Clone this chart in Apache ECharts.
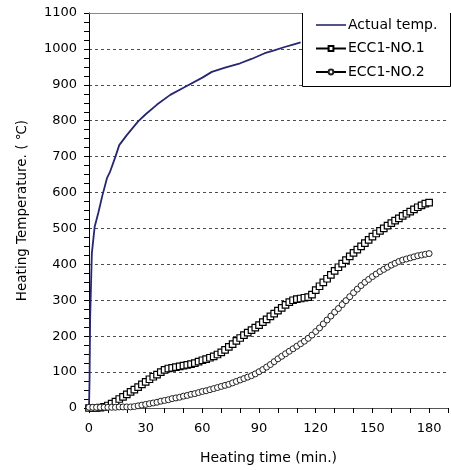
<!DOCTYPE html>
<html>
<head>
<meta charset="utf-8">
<script src="https://cdn.jsdelivr.net/npm/echarts@6/dist/echarts.min.js"></script>
<style>
  html, body { margin: 0; padding: 0; background: #fff; }
  #chart { width: 451px; height: 470px; }
</style>
</head>
<body>
<div id="chart"></div>
<script>
// furnace (actual) temperature
var fireTime = [0, 0.3, 0.6, 1.5, 3, 5, 7, 9.5, 11, 14, 16, 20, 26, 30, 36, 43, 50, 60, 65, 72, 80, 86, 93, 98, 104, 108, 112];
var fireTemp = [0, 80, 250, 430, 505, 545, 590, 640, 656, 700, 732, 760, 798, 818, 845, 872, 892, 920, 936, 948, 960, 972, 988, 996, 1006, 1012, 1018];

// specimen readings, every 2 min
var testTime = [
    0, 2, 4, 6, 8, 10, 12, 14, 16, 18,
    20, 22, 24, 26, 28, 30, 32, 34, 36, 38,
    40, 42, 44, 46, 48, 50, 52, 54, 56, 58,
    60, 62, 64, 66, 68, 70, 72, 74, 76, 78,
    80, 82, 84, 86, 88, 90, 92, 94, 96, 98,
    100, 102, 104, 106, 108, 110, 112, 114, 116, 118,
    120, 122, 124, 126, 128, 130, 132, 134, 136, 138,
    140, 142, 144, 146, 148, 150, 152, 154, 156, 158,
    160, 162, 164, 166, 168, 170, 172, 174, 176, 178,
    180
];
var no1Temp = [
    0, 0, 0, 1, 3, 7, 12, 18, 25, 31,
    38, 45, 51, 58, 66, 73, 80, 87, 93, 100,
    106, 110, 112, 114, 116, 118, 120, 122, 125, 129,
    133, 136, 140, 144, 149, 155, 162, 170, 178, 187,
    195, 203, 210, 217, 224, 231, 239, 247, 255, 263,
    271, 279, 287, 295, 300, 303, 305, 307, 309, 316,
    328, 339, 350, 360, 371, 382, 392, 402, 412, 422,
    432, 441, 450, 459, 468, 477, 486, 493, 500, 508,
    515, 522, 528, 535, 541, 547, 553, 559, 564, 569,
    572
];
var no2Temp = [
    2, 2, 2, 2, 2, 2, 2, 2, 3, 3,
    3, 3, 4, 6, 8, 10, 12, 14, 16, 19,
    21, 23, 26, 28, 30, 33, 35, 38, 40, 43,
    46, 48, 51, 54, 57, 60, 63, 66, 70, 74,
    78, 82, 86, 90, 95, 101, 107, 114, 121, 129,
    137, 144, 151, 158, 165, 172, 179, 186, 194, 203,
    213, 223, 234, 245, 256, 267, 277, 288, 299, 310,
    321, 331, 341, 350, 358, 366, 373, 380, 386, 392,
    398, 403, 408, 412, 415, 418, 421, 424, 426, 428,
    430
];
var seriesNames = ['Actual temp.', 'ECC1-NO.1', 'ECC1-NO.2'];
var xLabelEvery = 30, xLabelMax = 180;

function pairs(xs, ys) {
    var out = [];
    for (var i = 0; i < xs.length; i++) {
        out.push([xs[i], ys[i]]);
    }
    return out;
}

var FONT = 'DejaVu Sans';
var NAVY = '#262673';
// 12 split lines (0..1100); the top one is the solid frame line
var gridColors = [];
for (var i = 0; i < 12; i++) {
    gridColors.push(i === 11 ? 'rgba(0,0,0,0)' : '#4d4d4d');
}

var chart = echarts.init(document.getElementById('chart'), null, {renderer: 'canvas'});
chart.setOption({
    animation: false,
    backgroundColor: '#fff',
    grid: {left: 89, right: 1, top: 13, bottom: 60},
    xAxis: [{
        type: 'value',
        min: 0,
        max: 190,
        interval: 10,
        name: 'Heating time (min.)',
        nameLocation: 'middle',
        nameGap: 43,
        nameTextStyle: {fontFamily: FONT, fontSize: 14, color: '#000'},
        axisLine: {lineStyle: {color: '#555', width: 1}},
        axisTick: {length: 5, lineStyle: {color: '#000'}},
        axisLabel: {
            margin: 14,
            fontFamily: FONT, fontSize: 13, color: '#000',
            formatter: function(v) {
                return (v % xLabelEvery === 0 && v <= xLabelMax) ? String(v) : '';
            }
        },
        splitLine: {show: false}
    }, {
        // top frame line
        type: 'value',
        position: 'top',
        min: 0,
        max: 190,
        axisLine: {show: true, lineStyle: {color: '#888', width: 1}},
        axisTick: {show: false},
        axisLabel: {show: false},
        splitLine: {show: false}
    }],
    yAxis: {
        type: 'value',
        min: 0,
        max: 1100,
        interval: 100,
        name: 'Heating Temperature. ( \u2103)',
        nameLocation: 'middle',
        nameGap: 60,
        nameTextStyle: {fontFamily: FONT, fontSize: 13.5, color: '#000'},
        axisLine: {show: true, lineStyle: {color: '#000', width: 1}},
        axisTick: {length: 5, lineStyle: {color: '#000'}},
        minorTick: {show: true, splitNumber: 4, length: 5, lineStyle: {color: '#000'}},
        axisLabel: {
            margin: 12, fontFamily: FONT, fontSize: 13, color: '#000',
            formatter: function(v) { return String(v); }
        },
        splitLine: {show: true, lineStyle: {color: gridColors, type: [3, 3], width: 1}}
    },
    legend: {
        orient: 'vertical',
        left: 315,
        top: 18,
        itemWidth: 30,
        itemHeight: 6,
        itemGap: 9.5,
        padding: 0,
        z: 100,
        textStyle: {fontFamily: FONT, fontSize: 14, color: '#000', padding: [0, 0, 0, -3]},
        data: [
            {name: seriesNames[0], icon: 'path://M0,0L30,0L30,1.6L0,1.6Z', itemStyle: {color: NAVY}},
            {name: seriesNames[1]},
            {name: seriesNames[2]}
        ]
    },
    graphic: [{
        type: 'rect',
        z: 90,
        shape: {x: 302, y: 13, width: 148, height: 73},
        style: {fill: '#fff', stroke: null}
    }, {
        type: 'polyline',
        z: 91,
        shape: {points: [[302.5, 13], [302.5, 86.5], [450.5, 86.5], [450.5, 13]]},
        style: {fill: null, stroke: '#000', lineWidth: 1}
    }],
    series: [{
        name: seriesNames[0],
        type: 'line',
        showSymbol: false,
        symbol: 'none',
        lineStyle: {color: NAVY, width: 1.8},
        itemStyle: {color: NAVY},
        data: pairs(fireTime, fireTemp)
    }, {
        name: seriesNames[1],
        type: 'line',
        symbol: 'rect',
        symbolSize: 6.5,
        showAllSymbol: true,
        lineStyle: {color: '#000', width: 1},
        itemStyle: {color: '#fff', borderColor: '#000', borderWidth: 1.2},
        data: pairs(testTime, no1Temp)
    }, {
        name: seriesNames[2],
        type: 'line',
        symbol: 'circle',
        symbolSize: 6,
        showAllSymbol: true,
        lineStyle: {color: '#000', width: 1},
        itemStyle: {color: '#fff', borderColor: '#222', borderWidth: 1},
        data: pairs(testTime, no2Temp)
    }]
});
</script>
</body>
</html>
